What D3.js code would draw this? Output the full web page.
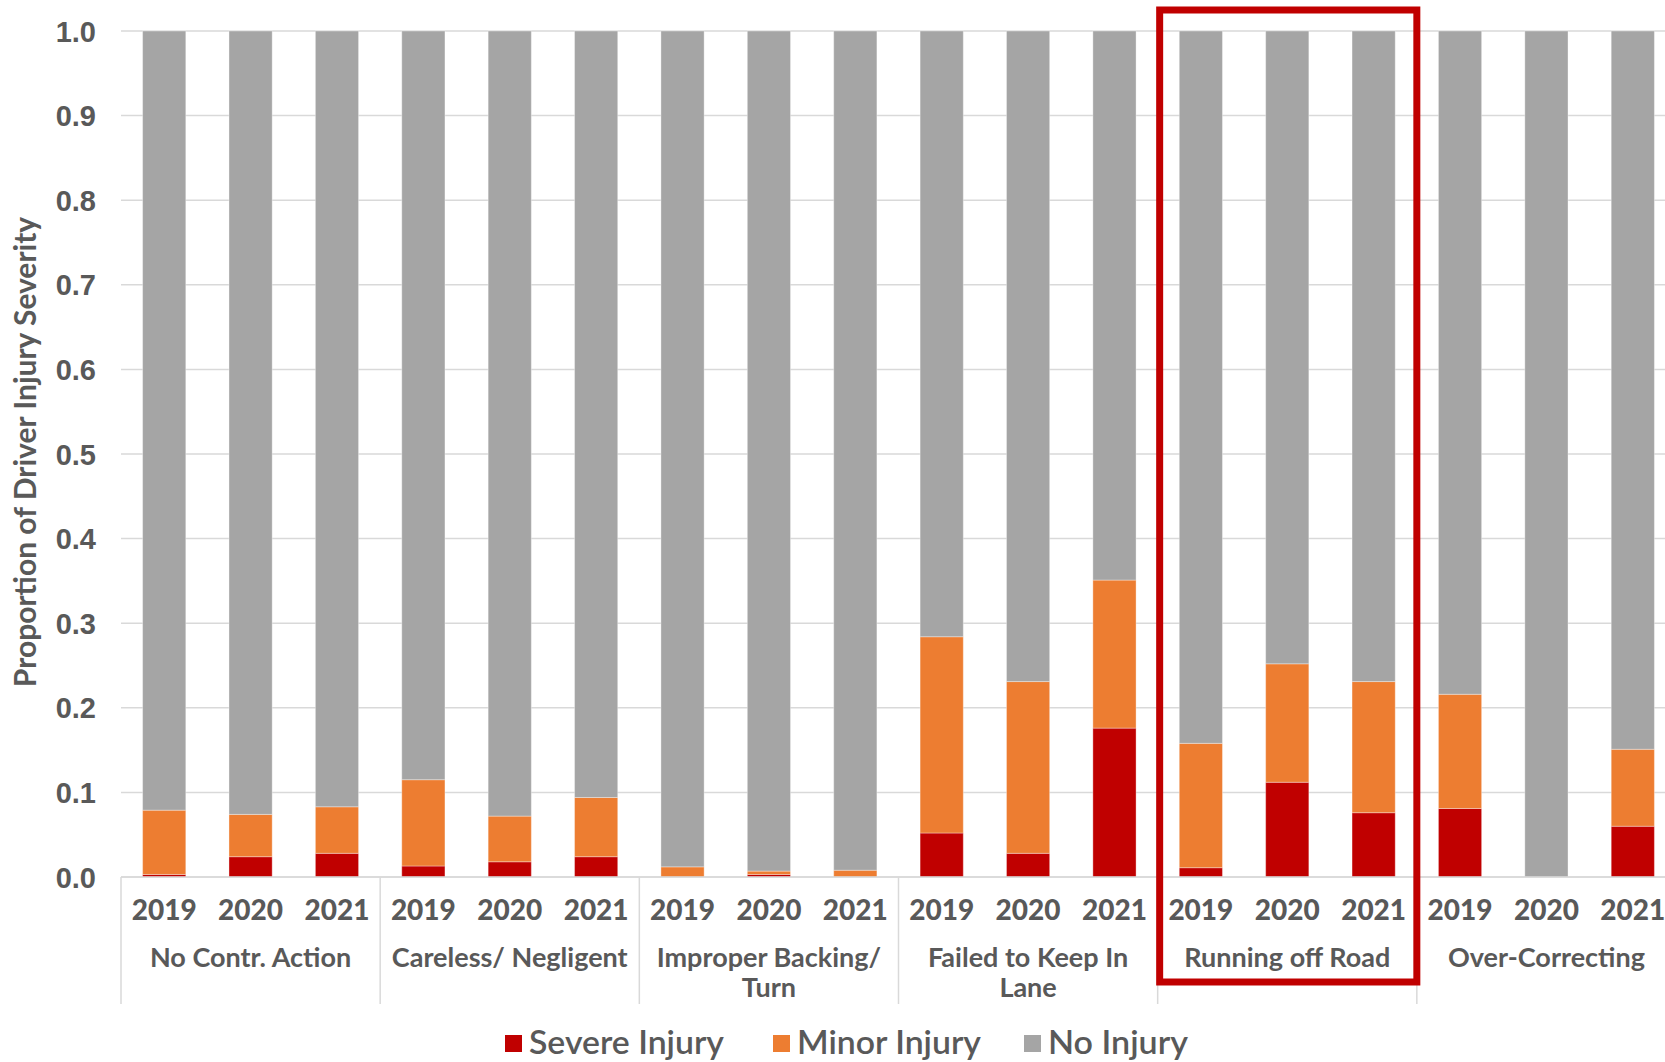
<!DOCTYPE html>
<html>
<head>
<meta charset="utf-8">
<script src="https://cdn.jsdelivr.net/npm/d3@7"></script>
<style>
  body { margin: 0; background: #fff; overflow: hidden; }
  svg { display: block; font-family: Lato, "Open Sans", sans-serif; }
</style>
</head>
<body>
<svg id="chart" width="1665" height="1062"></svg>
<script>
// categories and years
var groups = ["No Contr. Action", "Careless/ Negligent", "Improper Backing/ Turn",
              "Failed to Keep In Lane", "Running off Road", "Over-Correcting"];
var groupLines = [["No Contr. Action"], ["Careless/ Negligent"], ["Improper Backing/", "Turn"],
                  ["Failed to Keep In", "Lane"], ["Running off Road"], ["Over-Correcting"]];
var years = ["2019", "2020", "2021"];

// proportions, one entry per group/year (group-major order)
var severe = [0.003, 0.024, 0.028,  0.013, 0.018, 0.024,  0.000, 0.003, 0.000,
              0.052, 0.028, 0.176,  0.011, 0.112, 0.076,  0.081, 0.000, 0.060];
var minor  = [0.076, 0.050, 0.055,  0.102, 0.054, 0.070,  0.012, 0.004, 0.008,
              0.232, 0.203, 0.175,  0.147, 0.140, 0.155,  0.135, 0.000, 0.091];
var noInjury = severe.map(function(s, i) { return +(1 - s - minor[i]).toFixed(3); });

var seriesNames = ["Severe Injury", "Minor Injury", "No Injury"];
var colors = ["#c00000", "#ed7d31", "#a5a5a5"];
var yTicks = [0, 0.1, 0.2, 0.3, 0.4, 0.5, 0.6, 0.7, 0.8, 0.9, 1.0];

var highlight = "Running off Road";

var rows = [];
groups.forEach(function(g, gi) {
  years.forEach(function(yr, yi) {
    var i = gi * 3 + yi;
    rows.push({ group: g, year: yr, "Severe Injury": severe[i], "Minor Injury": minor[i], "No Injury": noInjury[i] });
  });
});

var svg = d3.select("#chart");
var mLeft = 121, mRight = 1676, mTop = 31, mBottom = 877;
var textColor = "#595959";

var gx = d3.scaleBand().domain(groups).range([mLeft, mRight]).padding(0);
var yx = d3.scaleBand().domain(years).range([0, gx.bandwidth()]).paddingInner(0.5).paddingOuter(0.25);
var y = d3.scaleLinear().domain([0, 1]).range([mBottom, mTop]);

// gridlines
svg.append("g")
  .selectAll("line")
  .data(yTicks)
  .join("line")
    .attr("x1", mLeft).attr("x2", 1665)
    .attr("y1", function(d) { return y(d); })
    .attr("y2", function(d) { return y(d); })
    .attr("stroke", "#d9d9d9")
    .attr("stroke-width", 1.5);

// y axis labels
var yAxis = svg.append("g")
  .attr("transform", "translate(" + (mLeft - 25) + ",0)")
  .call(d3.axisLeft(y).tickValues(yTicks).tickFormat(d3.format(".1f")).tickSize(0).tickPadding(0));
yAxis.select(".domain").remove();
yAxis.selectAll("text")
  .attr("fill", textColor)
  .style("font-size", "29px")
  .style("font-weight", "900")
  .attr("dy", "0.35em");

// stacked bars
var stack = d3.stack().keys(seriesNames)(rows);
svg.append("g")
  .selectAll("g")
  .data(stack)
  .join("g")
    .attr("fill", function(d, i) { return colors[i]; })
  .selectAll("rect")
  .data(function(d) { return d; })
  .join("rect")
    .attr("x", function(d) { return gx(d.data.group) + yx(d.data.year); })
    .attr("width", yx.bandwidth())
    .attr("y", function(d) { return y(d[1]); })
    .attr("height", function(d) { return Math.max(0, y(d[0]) - y(d[1])); })
    .attr("stroke", "#ffffff")
    .attr("stroke-opacity", 0.35)
    .attr("stroke-width", 1);

// x axis line and group separators
svg.append("line")
  .attr("x1", mLeft).attr("x2", 1665)
  .attr("y1", mBottom).attr("y2", mBottom)
  .attr("stroke", "#d9d9d9").attr("stroke-width", 1.5);

var seps = groups.map(function(g) { return gx(g); });
svg.append("g")
  .selectAll("line")
  .data(seps)
  .join("line")
    .attr("x1", function(d) { return d; })
    .attr("x2", function(d) { return d; })
    .attr("y1", mBottom).attr("y2", 1004)
    .attr("stroke", "#d9d9d9").attr("stroke-width", 1.5);

// year labels
svg.append("g")
  .selectAll("text")
  .data(rows)
  .join("text")
    .attr("x", function(d) { return gx(d.group) + yx(d.year) + yx.bandwidth() / 2; })
    .attr("y", 920)
    .attr("text-anchor", "middle")
    .attr("fill", textColor)
    .style("font-size", "28px")
    .style("font-weight", "900")
    .text(function(d) { return d.year; });

// group labels
var gl = svg.append("g")
  .selectAll("text")
  .data(groups)
  .join("text")
    .attr("x", function(d) { return gx(d) + gx.bandwidth() / 2; })
    .attr("y", 967)
    .attr("text-anchor", "middle")
    .attr("fill", textColor)
    .style("font-size", "27px")
    .style("font-weight", "700");
gl.selectAll("tspan")
  .data(function(d, i) { return groupLines[i]; })
  .join("tspan")
    .attr("x", function() { var g = d3.select(this.parentNode).datum(); return gx(g) + gx.bandwidth() / 2; })
    .attr("dy", function(d, i) { return i === 0 ? 0 : 30; })
    .text(function(d) { return d; });

// highlight box around one group
svg.append("rect")
  .attr("x", gx(highlight) + 2)
  .attr("y", 10)
  .attr("width", gx.bandwidth() - 2)
  .attr("height", 972)
  .attr("fill", "none")
  .attr("stroke", "#c00000")
  .attr("stroke-width", 7);

// y axis title
svg.append("text")
  .attr("transform", "translate(36,452) rotate(-90)")
  .attr("text-anchor", "middle")
  .attr("fill", textColor)
  .style("font-size", "30px")
  .style("font-weight", "700")
  .text("Proportion of Driver Injury Severity");

// legend
var legendX = [505, 773, 1024];
var legendW = [195, 184, 140];
var lg = svg.append("g")
  .selectAll("g")
  .data(seriesNames)
  .join("g")
    .attr("transform", function(d, i) { return "translate(" + legendX[i] + ",1035)"; });
lg.append("rect")
  .attr("width", 17).attr("height", 17)
  .attr("fill", function(d, i) { return colors[i]; });
lg.append("text")
  .attr("x", 24).attr("y", 19)
  .attr("fill", textColor)
  .style("font-size", "32px")
  .style("font-weight", "600")
  .attr("textLength", function(d, i) { return legendW[i]; })
  .attr("lengthAdjust", "spacingAndGlyphs")
  .text(function(d) { return d; });
</script>
</body>
</html>
